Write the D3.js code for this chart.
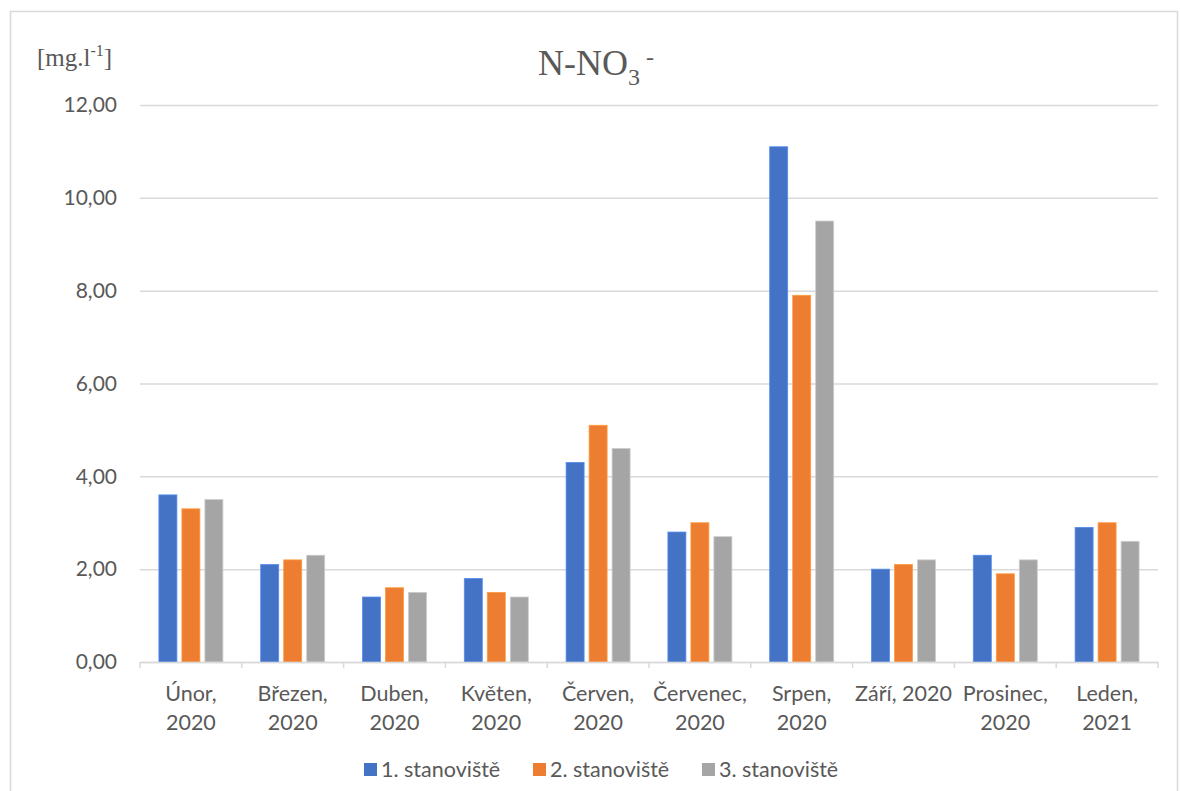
<!DOCTYPE html>
<html><head><meta charset="utf-8">
<script src="https://cdn.jsdelivr.net/npm/d3@7"></script>
<style>body{margin:0;background:#fff}svg{display:block}</style>
</head><body>
<svg id="c" width="1180" height="791"></svg>
<script>
const categories = ["Únor,\n2020","Březen,\n2020","Duben,\n2020","Květen,\n2020","Červen,\n2020","Červenec,\n2020","Srpen,\n2020","Září, 2020","Prosinec,\n2020","Leden,\n2021"];
const seriesNames = ["1. stanoviště","2. stanoviště","3. stanoviště"];
const s1 = [3.6,2.1,1.4,1.8,4.3,2.8,11.1,2.0,2.3,2.9];
const s2 = [3.3,2.2,1.6,1.5,5.1,3.0,7.9,2.1,1.9,3.0];
const s3 = [3.5,2.3,1.5,1.4,4.6,2.7,9.5,2.2,2.2,2.6];
const yTicks = [0,2,4,6,8,10,12];
const colors = ["#4472C4","#ED7D31","#A5A5A5"];
const series = [s1,s2,s3];

const svg = d3.select("#c");
const textCol = "#595959", gridCol = "#d9d9d9";
const font = "Lato, 'Open Sans', sans-serif";
const serif = "'Liberation Serif', 'Times New Roman', serif";
const pLeft = 140, pRight = 1158, pTop = 105, pBottom = 662;

svg.append("rect").attr("x",10.5).attr("y",11.5).attr("width",1167).attr("height",800)
  .attr("fill","#fff").attr("stroke","#d9d9d9").attr("stroke-width",1.5);

const x = d3.scaleBand().domain(categories).range([pLeft,pRight]).padding(0);
const y = d3.scaleLinear().domain([0,12]).range([pBottom,pTop]);

// gridlines + y tick labels
const yAxis = d3.axisLeft(y).tickValues(yTicks).tickSize(-(pRight-pLeft)).tickPadding(23)
  .tickFormat(d => d3.format(".2f")(d).replace(".",","));
const gy = svg.append("g").attr("transform",`translate(${pLeft},0)`).call(yAxis);
gy.select(".domain").remove();
gy.selectAll(".tick line").attr("stroke",gridCol).attr("stroke-width",1.5);
gy.selectAll(".tick text").attr("fill",textCol).style("font-family",font).style("font-size","21px");

// bars
const barW = 18, step = 23;
series.forEach((s,i) => {
  svg.append("g").selectAll("rect").data(s).join("rect")
    .attr("x",(d,j) => x(categories[j]) + x.bandwidth()/2 - barW/2 + (i-1)*step)
    .attr("y",d => y(d))
    .attr("width",barW)
    .attr("height",d => y(0)-y(d))
    .attr("fill",colors[i])
    .attr("stroke",d3.color(colors[i]).brighter(0.6)).attr("stroke-width",0.8);
});

// x axis
const xAxis = d3.axisBottom(x).tickSize(0).tickFormat("");
const gx = svg.append("g").attr("transform",`translate(0,${pBottom})`).call(xAxis);
gx.select(".domain").attr("stroke",gridCol).attr("stroke-width",1.5);
const bounds = categories.map(c => x(c)).concat([pRight]);
svg.append("g").selectAll("line").data(bounds).join("line")
  .attr("x1",d=>d).attr("x2",d=>d).attr("y1",pBottom).attr("y2",pBottom+6)
  .attr("stroke",gridCol).attr("stroke-width",1.5);

// x labels
categories.forEach(c => {
  const cx = x(c) + x.bandwidth()/2;
  const t = svg.append("text").attr("x",cx).attr("y",701).attr("text-anchor","middle")
    .attr("fill",textCol).style("font-family",font).style("font-size","21.5px");
  c.split("\n").forEach((line,k) => {
    t.append("tspan").attr("x",cx).attr("dy",k ? 29 : 0).text(line);
  });
});

// title
const title = svg.append("text").attr("x",538).attr("y",75)
  .attr("fill",textCol).style("font-family",serif).style("font-size","36px");
title.append("tspan").text("N-NO");
title.append("tspan").attr("dy",10).style("font-size","24px").text("3");
title.append("tspan").attr("dy",-20).style("font-size","24px").text(" -");

// y unit label
const yl = svg.append("text").attr("x",37).attr("y",66).attr("fill",textCol)
  .style("font-family",serif).style("font-size","25px");
yl.append("tspan").text("[mg.l");
yl.append("tspan").attr("dy",-10).style("font-size","16px").text("-1");
yl.append("tspan").attr("dy",10).text("]");

// legend
const legX = [364,533,702];
seriesNames.forEach((n,i) => {
  svg.append("rect").attr("x",legX[i]).attr("y",763).attr("width",13).attr("height",13).attr("fill",colors[i]);
  svg.append("text").attr("x",legX[i]+17).attr("y",777).attr("fill",textCol)
    .style("font-family",font).style("font-size","21.5px").text(n);
});
</script>
</body></html>
